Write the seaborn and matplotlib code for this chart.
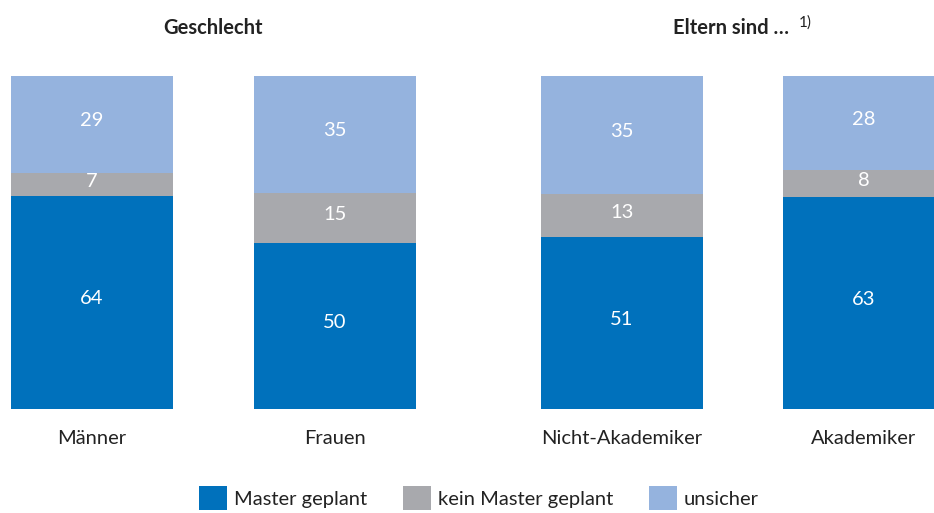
import numpy as np
import pandas as pd
import seaborn as sns
import matplotlib.pyplot as plt
from matplotlib.patches import Patch

# values (percent)
categories = ['Männer', 'Frauen', 'Nicht-Akademiker', 'Akademiker']
master_geplant = [64, 50, 51, 63]
kein_master = [7, 15, 13, 8]
unsicher = [29, 35, 35, 28]
series_names = ['Master geplant', 'kein Master geplant', 'unsicher']
colors = ['#0071BC', '#A8A9AD', '#95B3DE']

sns.set_theme(style='white')
plt.rcParams['font.family'] = ['Lato', 'DejaVu Sans']

# bar centres (in pixel units of the figure width)
positions = [92, 335, 622, 864]
bar_w = 162 / 242

df = pd.DataFrame({'pos': positions, 'cat': categories,
                   'm': master_geplant, 'k': kein_master, 'u': unsicher})
# rounded shares do not always add to 100, bars are drawn as full 100 %
s = df[['m', 'k', 'u']].sum(axis=1)
df['m_h'] = df['m'] / s * 100
df['mk_h'] = (df['m'] + df['k']) / s * 100
df['total_h'] = 100.0 * s / s

fig = plt.figure(figsize=(9.34, 5.13), dpi=100)
ax = fig.add_axes([0, 104 / 513, 1, 333 / 513])

# stacked bars drawn back to front
for col, c in zip(['total_h', 'mk_h', 'm_h'], colors[::-1]):
    sns.barplot(data=df, x='pos', y=col, native_scale=True, width=bar_w,
                color=c, orient='x', ax=ax, saturation=1, linewidth=0)

ax.set_xlim(0, 934)
ax.set_ylim(0, 100)
sns.despine(ax=ax, left=True, bottom=True)
ax.set_yticks([])
ax.set_ylabel('')
ax.set_xlabel('')
ax.set_xticks(positions, categories, fontsize=14.5, color='#222222')
ax.tick_params(axis='x', length=0, pad=15)

# value labels
fs = 14.5
for _, r in df.iterrows():
    ax.text(r['pos'], r['m_h'] / 2 + 1.1, f"{r['m']}", ha='center', va='center',
            color='white', fontsize=fs)
    ax.text(r['pos'], (r['m_h'] + r['mk_h']) / 2 + 0.9, f"{r['k']}", ha='center',
            va='center', color='white', fontsize=fs)
    ax.text(r['pos'], (r['mk_h'] + 100) / 2 + 1.1, f"{r['u']}", ha='center', va='center',
            color='white', fontsize=fs)

# group titles
fig.text(213 / 934, 1 - 28 / 513, 'Geschlecht', ha='center', va='center',
         fontsize=14.5, fontweight='bold', color='#222222')
fig.text(731 / 934, 1 - 28 / 513, 'Eltern sind …', ha='center', va='center',
         fontsize=14.5, fontweight='bold', color='#222222')
fig.text(799 / 934, 1 - 23 / 513, '1)', ha='left', va='center',
         fontsize=11, color='#222222')

handles = [Patch(facecolor=c, edgecolor='none', label=n) for c, n in zip(colors, series_names)]
fig.legend(handles=handles, loc='center', bbox_to_anchor=(479 / 934, 1 - 498 / 513), ncol=3,
           frameon=False, fontsize=14.5, handlelength=1.4, handleheight=1.4,
           handletextpad=0.35, columnspacing=1.75, labelcolor='#222222')

fig.savefig('out.png', dpi=100)
